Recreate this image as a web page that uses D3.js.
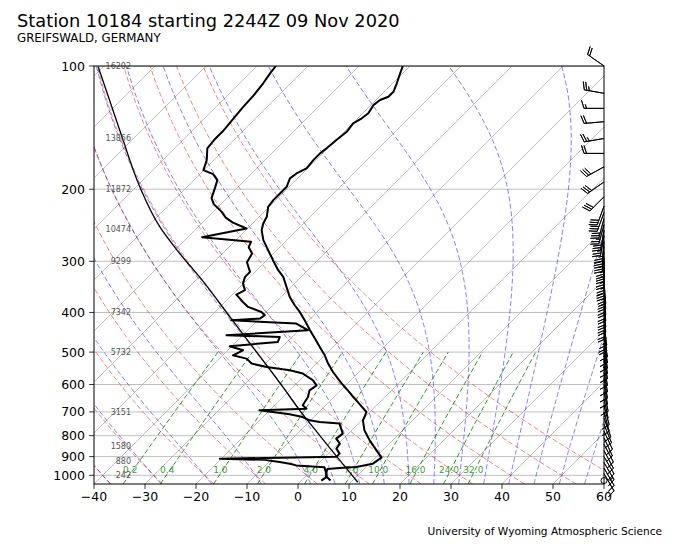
<!DOCTYPE html>
<html>
<head>
<meta charset="utf-8">
<script src="https://cdnjs.cloudflare.com/ajax/libs/d3/7.8.5/d3.min.js"></script>
<title>skew-T</title>
<style>
  body { margin: 0; background: #fff; }
  text { font-family: "DejaVu Sans", sans-serif; }
</style>
</head>
<body>
<script>
// ---- sounding values (hPa, degC) ----
var tempP = [100, 104.2, 110.2, 115.6, 118.9, 121.1, 124.6, 130.5, 134.2, 138.1, 144.8, 151.7, 158.9, 163.5, 169.8,
  177.9, 183.0, 188.2, 197.3, 204.8, 212.7, 220.8, 233.6, 242.5, 251.8, 266.4, 281.8, 298.1, 315.4, 327.5,
  346.5, 366.6, 384.1, 398.8, 417.9, 442.1, 463.3, 485.7, 509.0, 533.3, 559.2, 595.9, 619.9, 644.8, 670.7,
  700.4, 720.4, 733.9, 776.4, 821.5, 869.1, 905.5, 936.6, 954.7, 959.0, 964.5, 983.6, 1010, 1030];
var tempT = [-61.4, -60.5, -59.2, -58.2, -58.2, -59.2, -59.5, -58.9, -59.2, -59.9, -59.5, -59.9, -60.2, -60.5, -60.5,
  -60.2, -61.2, -61.5, -60.5, -60.5, -60.5, -60.2, -58.5, -57.9, -56.9, -54.6, -51.7, -48.8, -45.8, -43.5,
  -40.9, -38.3, -35.7, -33.4, -30.8, -27.8, -25.2, -22.6, -20.0, -17.7, -15.1, -11.2, -8.6, -6.1, -3.5,
  -0.7, -0.1, 0.25, 2.5, 5.5, 8.8, 11.2, 10.7, 8.1, 5.0, 2.8, 3.3, 4.3, 5.7];

var dewP = [100, 104.2, 110.2, 118.1, 125.8, 134.8, 144.2, 151.7, 158.9, 169.8, 179.6, 183.7, 190.0, 198.8, 210.3,
  217.5, 226.9, 234.7, 241.4, 249.4, 261.9, 268.9, 277.1, 287.1, 301.5, 318.4, 327.5, 339.9, 353.0, 362.0,
  377.1, 387.8, 398.9, 406.4, 414.0, 417.9, 425.8, 442.1, 454.7, 459.1, 472.3, 483.9, 494.9, 509.0, 518.6,
  533.3, 543.6, 553.8, 564.2, 585.9, 602.7, 619.9, 643.7, 674.5, 687.2, 693.8, 709.6, 720.4, 733.9, 740.9,
  747.6, 791.0, 813.6, 836.8, 860.7, 885.2, 901.3, 910.5, 916.7, 928.1, 936.6, 945.6, 955.3, 983.6, 1011.8, 1030];
var dewT = [-86.3, -86.0, -85.4, -84.9, -84.7, -84.3, -83.9, -83.9, -83.6, -81.4, -80.1, -77.4, -75.4, -74.3, -73.0,
  -71.4, -68.4, -66.4, -64.0, -60.2, -67.2, -56.7, -56.1, -54.2, -53.5, -51.0, -51.0, -50.1, -48.4, -49.2,
  -46.5, -44.5, -40.9, -39.6, -39.9, -45.2, -31.8, -28.2, -43.2, -32.4, -31.8, -40.4, -37.0, -38.0, -34.7,
  -32.7, -29.1, -23.9, -20.7, -17.4, -15.7, -16.1, -15.1, -14.5, -13.1, -22.0, -15.3, -12.2, -10.2, -7.9,
  -3.7, -1.1, -1.4, 0.3, 0.6, 2.2, 2.2, -20.3, -11.3, -7.9, -5.6, -4.0, 1.9, 3.2, 4.2, 3.9];

var parcelP = [100.4, 148.9, 197.3, 247.2, 286.6, 331.8, 414.4, 608.4, 693.8, 798.6, 1040];
var parcelT = [-121.0, -102.6, -89.3, -77.5, -68.5, -59.1, -45.5, -22.0, -14.1, -5.3, 11.4];

// wind: pressure, direction (deg from), speed (kt)
var windP = [100, 116.6, 126.9, 136.8, 150.3, 163.5, 176.3, 192, 208.7,
  220, 228, 236, 244, 252, 260, 268, 276, 284, 292,
  300, 310, 320, 330, 340, 350, 362, 375, 388, 400,
  415, 430, 445, 460, 475, 490, 505, 520, 540, 560,
  580, 600, 625, 650, 675, 700, 725, 750, 780, 810,
  840, 870, 900, 930, 960, 990, 1030];
var windDir = [305, 280, 270, 265, 260, 270, 241, 235, 225,
  200, 200, 195, 195, 190, 190, 185, 185, 185, 180,
  180, 180, 178, 178, 175, 175, 175, 175, 175, 175,
  175, 172, 172, 170, 170, 170, 170, 170, 170, 170,
  170, 170, 168, 168, 165, 165, 160, 158, 155, 155,
  152, 152, 150, 150, 150, 150, 0];
var windSpd = [20, 25, 15, 20, 25, 20, 30, 30, 30,
  30, 30, 30, 25, 30, 25, 25, 30, 25, 25,
  25, 25, 25, 30, 25, 25, 20, 20, 20, 20,
  20, 15, 20, 15, 15, 15, 10, 10, 10, 10,
  10, 10, 10, 5, 10, 10, 10, 10, 10, 10,
  10, 10, 10, 15, 10, 10, 0];

// height labels (m) at mandatory levels
var heightP = [100, 150, 200, 250, 300, 400, 500, 700, 850, 925, 1000];
var heightLabels = ["16202", "13866", "11872", "10474", "9299", "7342", "5732", "3151", "1580", "880", "242"];

// axis ticks
var pressureTicks = [100, 200, 300, 400, 500, 600, 700, 800, 900, 1000];
var tempTicks = [-40, -30, -20, -10, 0, 10, 20, 30, 40, 50, 60];

// background lines
var isoT = [-120, -110, -100, -90, -80, -70, -60, -50, -40, -30, -20, -10, 0, 10, 20, 30, 40, 50, 60];
var dryT0 = [-40, -30, -20, -10, 0, 10, 20, 30, 40, 50, 60];
var moistT0 = [-40, -30, -20, -10, 0, 5, 10, 15, 20, 25, 30, 35, 40, 45, 50, 55, 60];
var mixW = [0.2, 0.4, 1, 2, 4, 7, 10, 16, 24, 32];   // g/kg
var mixLabels = ["0.2", "0.4", "1.0", "2.0", "4.0", "7.0", "10.0", "16.0", "24.0", "32.0"];

// ---- layout ----
var W = 680, H = 544;
var pL = 94, pR = 604, pT = 66, pB = 484;

var x = d3.scaleLinear().domain([-40, 60]).range([pL, pR]);
var y = d3.scaleLog().domain([1050, 100]).range([pB, pT]);
// 45 degree skew: one pixel right per pixel up
function sx(t, p) { return x(t) + (pB - y(p)); }

var line = d3.line().x(function(d) { return sx(d.t, d.p); }).y(function(d) { return y(d.p); });

var svg = d3.select("body").append("svg").attr("width", W).attr("height", H);
svg.append("rect").attr("width", W).attr("height", H).attr("fill", "#fff");

svg.append("clipPath").attr("id", "plot").append("rect")
  .attr("x", pL).attr("y", pT).attr("width", pR - pL).attr("height", pB - pT);

var plot = svg.append("g").attr("clip-path", "url(#plot)");

// thermodynamics
var Rd = 287.04749, Cpd = 1004.6662, Lv = 2.50084e6, eps = 0.6219569, kappa = Rd / Cpd;
function esat(tc) { return 6.112 * Math.exp(17.67 * tc / (tc + 243.5)); }
function dTdp(p, T) {
  var es = esat(T - 273.15);
  if (es >= p) return NaN;
  var rs = eps * es / (p - es);
  return (Rd * T + Lv * rs) / (Cpd + Lv * Lv * rs * eps / (Rd * T * T)) / p;
}
function rk4(p, T, h) {
  var k1 = dTdp(p, T), k2 = dTdp(p + h / 2, T + h / 2 * k1),
      k3 = dTdp(p + h / 2, T + h / 2 * k2), k4 = dTdp(p + h, T + h * k3);
  return T + h / 6 * (k1 + 2 * k2 + 2 * k3 + k4);
}
function moistCurve(t0) {
  var up = [], down = [], T = t0 + 273.15, p = 1000, i, n = 180, h = (100 - 1000) / n;
  up.push({p: 1000, t: t0});
  for (i = 0; i < n; i++) {
    T = rk4(p, T, h); p += h;
    if (!isFinite(T)) break;
    up.push({p: p, t: T - 273.15});
  }
  T = t0 + 273.15; p = 1000;
  for (i = 0; i < 10; i++) {
    T = rk4(p, T, 5); p += 5;
    if (!isFinite(T)) break;
    down.push({p: p, t: T - 273.15});
  }
  return down.reverse().concat(up);
}
var logP = d3.range(0, 61).map(function(i) { return 1050 * Math.pow(100 / 1050, i / 60); });

// grid: horizontal pressure lines and isotherms
plot.selectAll(".hgrid").data(pressureTicks).enter().append("line")
  .attr("x1", pL).attr("x2", pR)
  .attr("y1", function(d) { return y(d); }).attr("y2", function(d) { return y(d); })
  .attr("stroke", "#b0b0b0").attr("stroke-width", 0.8);

plot.selectAll(".iso").data(isoT).enter().append("line")
  .attr("x1", function(d) { return sx(d, 1050); }).attr("y1", y(1050))
  .attr("x2", function(d) { return sx(d, 100); }).attr("y2", y(100))
  .attr("stroke", "#b0b0b0").attr("stroke-width", 0.8);

// dry adiabats
plot.selectAll(".dry").data(dryT0).enter().append("path")
  .attr("d", function(t0) {
    return line(logP.map(function(p) { return {p: p, t: (t0 + 273.15) * Math.pow(p / 1000, kappa) - 273.15}; }));
  })
  .attr("fill", "none").attr("stroke", "#ff0000").attr("stroke-opacity", 0.5)
  .attr("stroke-width", 1).attr("stroke-dasharray", "5,2.5");

// moist adiabats
plot.selectAll(".moist").data(moistT0).enter().append("path")
  .attr("d", function(t0) { return line(moistCurve(t0)); })
  .attr("fill", "none").attr("stroke", "#0000ff").attr("stroke-opacity", 0.5)
  .attr("stroke-width", 1).attr("stroke-dasharray", "5,2.5");

// mixing ratio lines
function mixDew(w, p) {
  var r = w / 1000, e = p * r / (eps + r), v = Math.log(e / 6.112);
  return 243.5 * v / (17.67 - v);
}
var mixP = d3.range(0, 21).map(function(i) { return 1050 * Math.pow(500 / 1050, i / 20); });
plot.selectAll(".mix").data(mixW).enter().append("path")
  .attr("d", function(w) { return line(mixP.map(function(p) { return {p: p, t: mixDew(w, p)}; })); })
  .attr("fill", "none").attr("stroke", "#008000").attr("stroke-opacity", 0.8)
  .attr("stroke-width", 1).attr("stroke-dasharray", "5,2.5");

plot.selectAll(".mixlab").data(mixW).enter().append("text")
  .attr("x", function(w) { return sx(mixDew(w, 1000), 1000) + 1; })
  .attr("y", y(1000) - 2)
  .attr("text-anchor", "middle").attr("font-size", "9px")
  .attr("fill", "#008000").attr("fill-opacity", 0.8)
  .text(function(w, i) { return mixLabels[i]; });

// profiles
function zipPT(P, T) { return P.map(function(p, i) { return {p: p, t: T[i]}; }); }

plot.append("path").attr("d", d3.line().curve(d3.curveMonotoneY)
    .x(function(d) { return sx(d.t, d.p); }).y(function(d) { return y(d.p); })(zipPT(parcelP, parcelT)))
  .attr("fill", "none").attr("stroke", "#000").attr("stroke-width", 1.3);

plot.append("path").attr("d", line(zipPT(tempP, tempT)))
  .attr("fill", "none").attr("stroke", "#000").attr("stroke-width", 2).attr("stroke-linejoin", "round");
plot.append("path").attr("d", line(zipPT(dewP, dewT)))
  .attr("fill", "none").attr("stroke", "#000").attr("stroke-width", 2).attr("stroke-linejoin", "round");

// height labels
svg.selectAll(".hgt").data(heightP).enter().append("text")
  .attr("x", 131).attr("y", function(d) { return y(d); }).attr("dy", "0.35em")
  .attr("text-anchor", "end").attr("font-size", "8px").attr("fill", "#555")
  .text(function(d, i) { return heightLabels[i]; });

// spines
svg.append("rect").attr("x", pL).attr("y", pT).attr("width", pR - pL).attr("height", pB - pT)
  .attr("fill", "none").attr("stroke", "#000").attr("stroke-width", 1);

// y axis
var yAxis = svg.append("g");
yAxis.selectAll("line").data(pressureTicks).enter().append("line")
  .attr("x1", pL - 4.9).attr("x2", pL)
  .attr("y1", function(d) { return y(d); }).attr("y2", function(d) { return y(d); })
  .attr("stroke", "#000").attr("stroke-width", 0.8);
yAxis.selectAll("text").data(pressureTicks).enter().append("text")
  .attr("x", pL - 9).attr("y", function(d) { return y(d); }).attr("dy", "0.36em")
  .attr("text-anchor", "end").attr("font-size", "12.5px").text(function(d) { return d; });

// x axis
var fmt = d3.format("d");
var xAxis = svg.append("g");
xAxis.selectAll("line").data(tempTicks).enter().append("line")
  .attr("x1", function(d) { return x(d); }).attr("x2", function(d) { return x(d); })
  .attr("y1", pB).attr("y2", pB + 4.9)
  .attr("stroke", "#000").attr("stroke-width", 0.8);
xAxis.selectAll("text").data(tempTicks).enter().append("text")
  .attr("x", function(d) { return x(d); }).attr("y", 501)
  .attr("text-anchor", "middle").attr("font-size", "12.5px").text(function(d) { return fmt(d); });

// wind barbs on the right spine
var L = 20, spacing = L * 0.125, fullH = L * 0.4, fullW = L * 0.25, emptyR = L * 0.15;
var barbs = svg.append("g");
function drawBarb(x0, y0, spd, dir) {
  var s = Math.round(spd / 5) * 5;
  if (s < 5) {
    barbs.append("circle").attr("cx", x0).attr("cy", y0).attr("r", emptyR)
      .attr("fill", "none").attr("stroke", "#000").attr("stroke-width", 1);
    return;
  }
  var nflag = Math.floor(s / 50), rem = s - nflag * 50, nbarb = Math.floor(rem / 10), half = (rem - nbarb * 10) >= 5;
  var r = dir * Math.PI / 180, Sx = Math.sin(r), Sy = -Math.cos(r), Nx = Math.cos(r), Ny = Math.sin(r);
  function pt(xl, yl) { return [x0 + yl * Sx + xl * Nx, y0 + yl * Sy + xl * Ny]; }
  var v = [pt(0, 0)], off = L, i;
  for (i = 0; i < nflag; i++) {
    if (off !== L) off += spacing / 2;
    v.push(pt(0, off), pt(fullH, off - fullW / 2), pt(0, off - fullW));
    off -= fullW + spacing;
  }
  for (i = 0; i < nbarb; i++) {
    v.push(pt(0, off), pt(fullH, off + fullW / 2), pt(0, off));
    off -= spacing;
  }
  if (half) {
    if (off === L) { v.push(pt(0, off)); off -= 1.5 * spacing; }
    v.push(pt(0, off), pt(fullH / 2, off + fullW / 4), pt(0, off));
  }
  barbs.append("path").attr("d", "M" + v.map(function(q) { return q[0].toFixed(2) + "," + q[1].toFixed(2); }).join("L") + "Z")
    .attr("fill", "#000").attr("stroke", "#000").attr("stroke-width", 0.9).attr("stroke-linejoin", "miter");
}
windP.forEach(function(p, i) { drawBarb(pR, y(p), windSpd[i], windDir[i]); });

// titles
svg.append("text").attr("x", 17).attr("y", 27).attr("font-size", "17.8px")
  .text("Station 10184 starting 2244Z 09 Nov 2020");
svg.append("text").attr("x", 17).attr("y", 42).attr("font-size", "11.8px")
  .text("GREIFSWALD, GERMANY");
svg.append("text").attr("x", 662).attr("y", 535).attr("text-anchor", "end").attr("font-size", "10.6px")
  .text("University of Wyoming Atmospheric Science");
</script>
</body>
</html>
